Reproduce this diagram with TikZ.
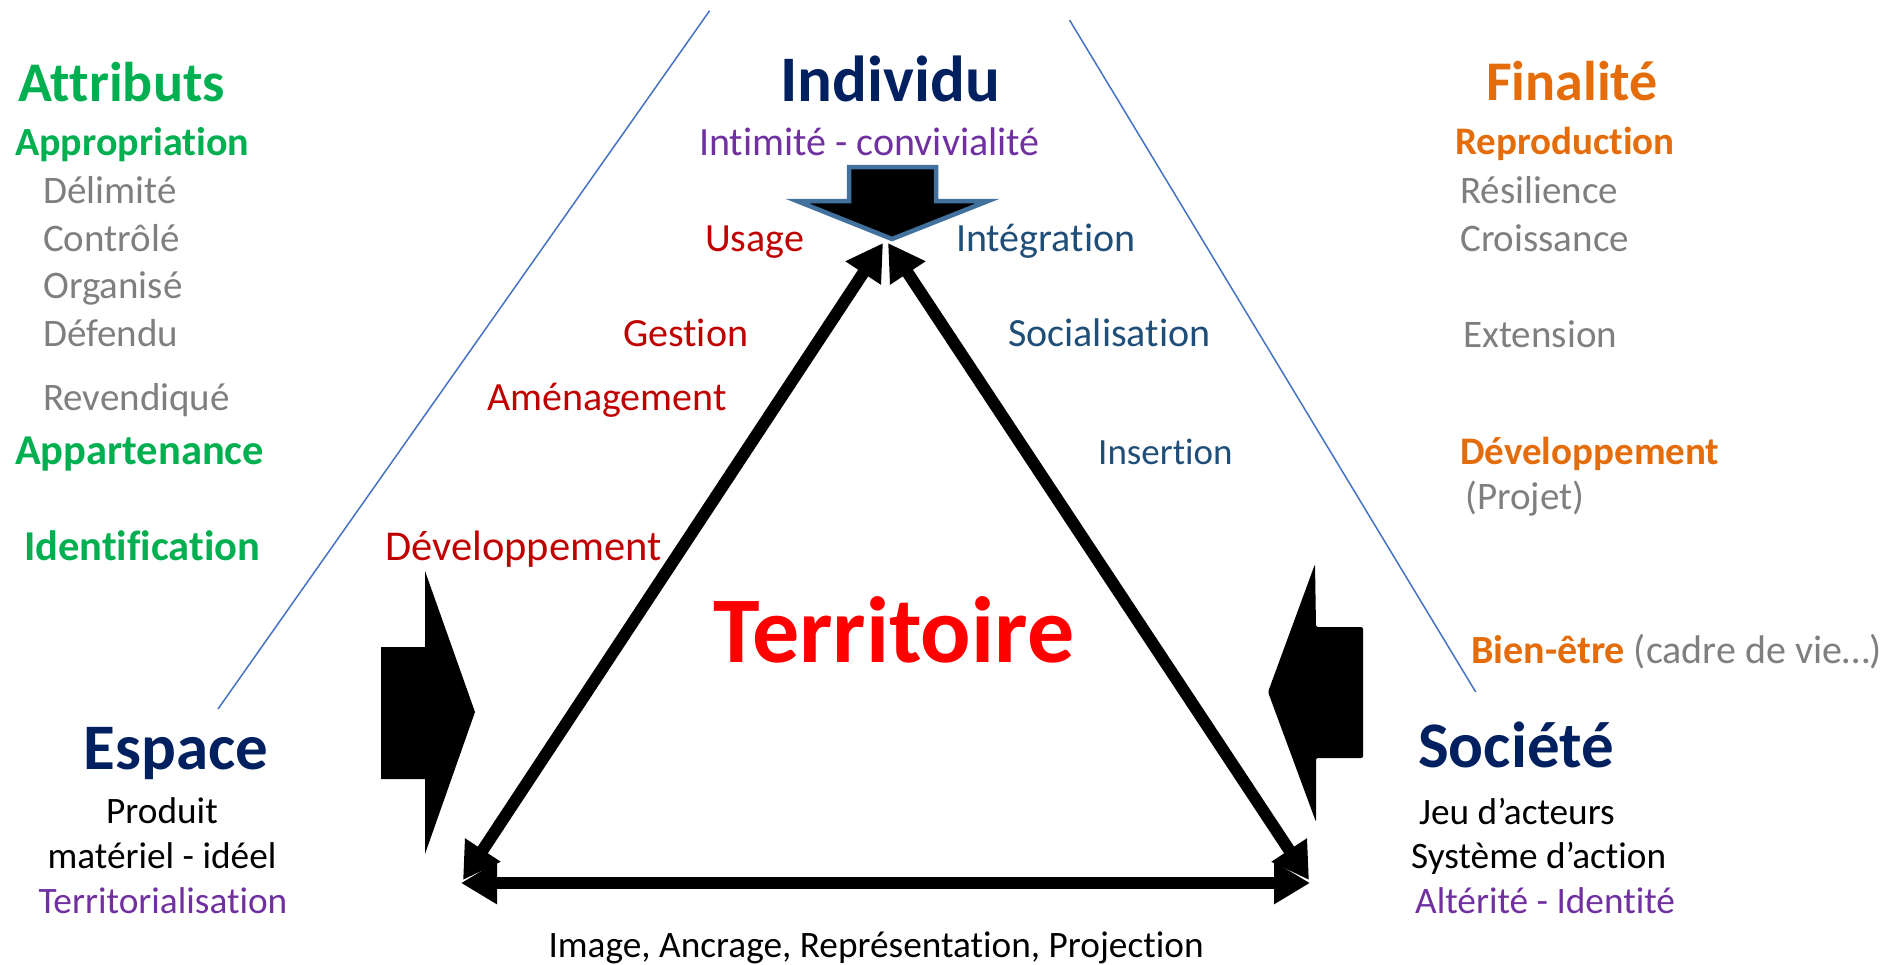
\documentclass[tikz,border=0pt]{standalone}
\usepackage{fontspec}
\setmainfont{Carlito}[Ligatures={NoCommon,NoRequired,NoContextual},Contextuals=NoAlternate]
\usetikzlibrary{arrows.meta}
\newcommand\lbrk{\kern0pt }
\definecolor{cgreen}{HTML}{00B050}
\definecolor{corange}{HTML}{E46C0A}
\definecolor{cgray}{HTML}{7F7F7F}
\definecolor{cpurple}{HTML}{7030A0}
\definecolor{cred}{HTML}{C00000}
\definecolor{cbright}{HTML}{FF0000}
\definecolor{cnavy}{HTML}{002060}
\definecolor{cblue}{HTML}{1F4E79}
\definecolor{cline}{HTML}{4472C4}
\definecolor{cborder}{HTML}{41719C}
\begin{document}
\begin{tikzpicture}[x=1pt,y=-1pt,
  tw/.style={anchor=base west, inner sep=0pt, font=\fontsize{39}{46}\selectfont},
  tc/.style={anchor=base, inner sep=0pt, font=\fontsize{37.3}{44}\selectfont},
  tl/.style={anchor=base west, inner sep=0pt, font=\fontsize{37.3}{44}\selectfont},
  big/.style={anchor=base, inner sep=0pt, text=cnavy, font=\fontsize{65}{78}\selectfont\bfseries},
  title/.style={anchor=base west, inner sep=0pt, font=\fontsize{56}{66}\selectfont\bfseries},
  sub/.style={tw, font=\fontsize{39}{46}\selectfont\bfseries},
  subbig/.style={tw, font=\fontsize{42.5}{50}\selectfont\bfseries},
  lab/.style={anchor=base west, inner sep=0pt, font=\fontsize{40}{48}\selectfont},
  sideline/.style={draw=cline, line width=1.5pt},
  block/.style={fill=black, line join=miter},
  tri/.style={line width=12pt, {Triangle[length=36pt,width=40pt]}-{Triangle[length=36pt,width=40pt]}}
]
\useasboundingbox (0,0) rectangle (1897,964);

% side lines
\coordinate (l1) at (709.6,10.7);
\coordinate (l2) at (218,709);
\coordinate (r1) at (1069.5,20);
\coordinate (r2) at (1475.7,692);
\draw[sideline] (l1) -- (l2);
\draw[sideline] (r1) -- (r2);

% block arrows
\draw[block, draw=cborder, line width=4.5pt] (849,167) -- (936,167) -- (936,201) -- (988,201) -- (892,239) -- (797,201) -- (849,201) -- cycle;
\fill[block] (381,647) -- (425,647) -- (425,571) -- (475,712) -- (425,854) -- (425,779) -- (381,779) -- cycle;
\fill[block, rounded corners=2pt] (1363,627) -- (1316,627) -- (1315,564) -- (1268,692) -- (1316,822) -- (1316,758) -- (1363,758) -- cycle;

% triangle
\coordinate (tA) at (883,243);
\coordinate (tB) at (888,243);
\coordinate (eL) at (463,880);
\coordinate (eR) at (1309,880);
\coordinate (hL) at (461,883);
\coordinate (hR) at (1310,883);
\draw[tri] (eL) -- (tA);
\draw[tri] (tB) -- (eR);
\draw[tri] (hL) -- (hR);

% left column
\node[title, text=cgreen] (attr) at (18,101) {At\lbrk t\lbrk ributs};
\node[sub, text=cgreen, font=\fontsize{40}{48}\selectfont\bfseries] (appr) at (15,155) {Appropriat\lbrk ion};
\node[tw, text=cgray] (deli) at (43,203) {Délimité};
\node[tw, text=cgray] (cont) at (43,251) {Contrôlé};
\node[tw, text=cgray] (orga) at (43,298) {Organisé};
\node[tw, text=cgray] (defe) at (43,346) {Défendu};
\node[tw, text=cgray] (reve) at (43,410) {Revendiqué};
\node[subbig, text=cgreen] (appa) at (15,464) {Appartenance};
\node[subbig, text=cgreen] (iden) at (24,560) {Identif\lbrk icat\lbrk ion};

% centre
\node[big] (indiv) at (890,101) {Individu};
\node[lab, text=cpurple] (intim) at (699,155) {Int\lbrk imité - convivialité};
\node[lab, text=cred] (usage) at (705,251) {Usage};
\node[lab, text=cblue] (integ) at (956,251) {Intégrat\lbrk ion};
\node[lab, text=cred] (gest) at (623,346) {Gest\lbrk ion};
\node[lab, text=cblue] (soci) at (1008,346) {Socialisat\lbrk ion};
\node[lab, text=cred] (amen) at (487,410) {Aménagement};
\node[lab, text=cblue, font=\fontsize{37}{44}\selectfont] (inse) at (1098,464) {Insert\lbrk ion};
\node[lab, text=cred, font=\fontsize{42.5}{50}\selectfont] (devr) at (385,560) {Développement};
\node[anchor=base, inner sep=0pt, text=cbright, font=\fontsize{94}{110}\selectfont\bfseries] (terr) at (894,662) {Territoire};

% Espace
\node[big] (esp) at (176,769) {Espace};
\node[tc] (prod) at (162,823) {Produit};
\node[tc] (mat) at (162,868) {matériel - idéel};
\node[tc, text=cpurple] (terrl) at (163,913) {Territorialisat\lbrk ion};

% Societe
\node[big] (soc) at (1516,767) {Société};
\node[tl] (jeu) at (1419,824) {Jeu d’acteurs};
\node[tl] (sys) at (1411,868) {Système d’act\lbrk ion};
\node[tl, text=cpurple] (alt) at (1415,913) {Altérité - Identité};

% bottom
\node[tc] (img) at (876,957) {Image, Ancrage, Représentat\lbrk ion, Project\lbrk ion};

% right column
\node[title, text=corange] (fin) at (1486,100) {Finalité};
\node[sub, text=corange] (repr) at (1455,154) {Reproduct\lbrk ion};
\node[tw, text=cgray] (resi) at (1460,203) {Résilience};
\node[tw, text=cgray] (croi) at (1460,251) {Croissance};
\node[tw, text=cgray] (exte) at (1463,347) {Extension};
\node[sub, text=corange] (devo) at (1460,464) {Développement};
\node[tw, text=cgray] (proj) at (1465,509) {(Projet)};
\node[tw, text=cgray, font=\fontsize{40}{48}\selectfont] (bien) at (1471,663) {\textcolor{corange}{\bfseries Bien-être} (cadre de vie…)};
\end{tikzpicture}
\end{document}
